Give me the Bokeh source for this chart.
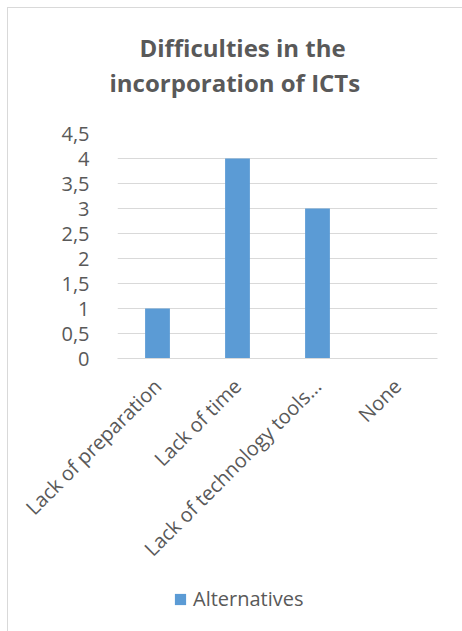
from bokeh.plotting import figure
from bokeh.layouts import column
from bokeh.models import FixedTicker, Title, Legend, LegendItem, ColumnDataSource, Range1d, FactorRange
from bokeh.embed import file_html
from bokeh.resources import INLINE
import math

categories = ["Lack of preparation", "Lack of time", "Lack of technology tools...", "None"]
values = [1, 4, 3, 0]
series_name = "Alternatives"
title_lines = ["Difficulties in the", "incorporation of ICTs"]
y_ticks = [0, 0.5, 1, 1.5, 2, 2.5, 3, 3.5, 4, 4.5]
y_tick_labels = ["0", "0,5", "1", "1,5", "2", "2,5", "3", "3,5", "4", "4,5"]

FONT = "Open Sans"
TXT = "#595959"
GRID = "#D9D9D9"
BAR = "#5B9BD5"

W = 454
H0, H1, H2 = 110, 456, 57
BL, BR = 109, 25


def blank(height, **kw):
    f = figure(width=W, height=height, output_backend="svg", toolbar_location=None,
               x_axis_type=None, y_axis_type=None, min_border_left=BL,
               min_border_right=BR, **kw)
    f.outline_line_color = None
    f.grid.grid_line_color = None
    f.background_fill_color = "white"
    f.border_fill_color = "white"
    return f


src = ColumnDataSource(dict(cat=categories, val=values))

# --- title strip
p0 = blank(H0, min_border_top=90, min_border_bottom=0,
           x_range=Range1d(0, 1), y_range=Range1d(0, 1))
for line, off in [(title_lines[1], -8), (title_lines[0], 22)]:
    p0.add_layout(Title(text=line, align="left", offset=off,
                        text_font=FONT, text_font_style="bold",
                        text_font_size="24px", text_color=TXT, standoff=0), "above")

# --- chart
p = figure(x_range=categories, width=W, height=H1, output_backend="svg",
           toolbar_location=None, min_border_left=BL, min_border_right=BR,
           min_border_top=15, min_border_bottom=212)
p.y_range = Range1d(0, 4.5)
p.x_range.range_padding = 0
p.outline_line_color = None
p.background_fill_color = "white"
p.border_fill_color = "white"

r = p.vbar(x="cat", top="val", width=0.31, source=src, fill_color=BAR, line_color=None)

p.yaxis.ticker = FixedTicker(ticks=y_ticks)
p.yaxis.major_label_overrides = {t: l for t, l in zip(y_ticks, y_tick_labels)}
p.yaxis.axis_line_color = None
p.yaxis.major_tick_line_color = None
p.yaxis.minor_tick_line_color = None
p.yaxis.major_label_standoff = 22
p.yaxis.major_label_text_font = FONT
p.yaxis.major_label_text_font_size = "20px"
p.yaxis.major_label_text_color = TXT

p.xaxis.axis_line_color = GRID
p.xaxis.axis_line_width = 1
p.xaxis.major_tick_line_color = None
p.xaxis.minor_tick_line_color = None
p.xaxis.major_label_orientation = math.pi / 4
p.xaxis.major_label_standoff = 18
p.xaxis.major_label_text_font = FONT
p.xaxis.major_label_text_font_size = "20px"
p.xaxis.major_label_text_color = TXT

p.xgrid.grid_line_color = None
p.ygrid.grid_line_color = GRID
p.ygrid.grid_line_width = 1

# --- legend strip
p2 = blank(H2, min_border_top=0, min_border_bottom=0,
           x_range=FactorRange(*categories), y_range=Range1d(-2, -1))
r2 = p2.vbar(x="cat", top="val", width=0.31, source=src, fill_color=BAR,
             line_color=None, visible=False)
legend = Legend(items=[LegendItem(label=series_name, renderers=[r2])],
                location=(56, 19), orientation="horizontal",
                glyph_width=14, glyph_height=14, label_standoff=6,
                padding=0, margin=0, border_line_color=None,
                background_fill_alpha=0,
                label_text_font=FONT, label_text_font_size="20px",
                label_text_color=TXT)
p2.add_layout(legend, "center")

layout = column(p0, p, p2, spacing=0)
layout.styles = {"margin-left": "7px", "margin-top": "7px",
                 "border-left": "1px solid #D9D9D9", "border-top": "1px solid #D9D9D9"}

open("out.html", "w").write(file_html(layout, INLINE))
